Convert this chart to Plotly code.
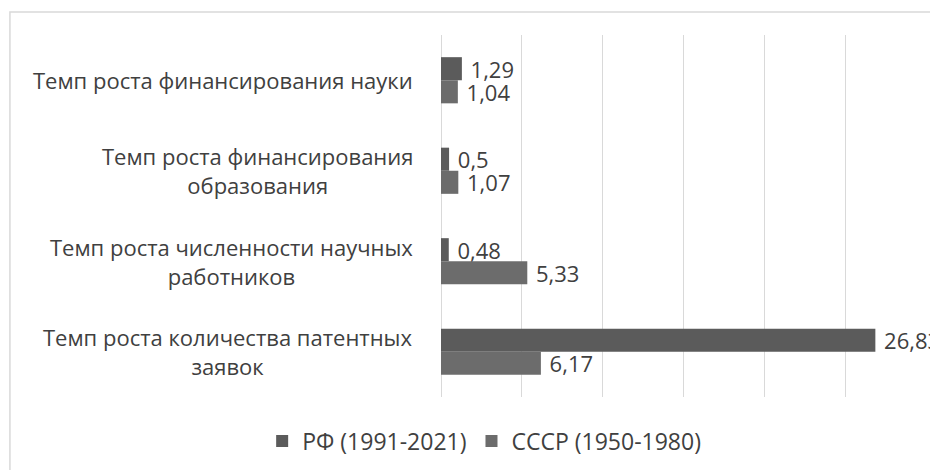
import plotly.graph_objects as go

categories = [
    "Темп роста финансирования науки",
    "Темп роста финансирования<br>образования",
    "Темп роста численности научных<br>работников",
    "Темп роста количества патентных<br>заявок",
]
cat_keys = ["nauka", "obraz", "rabot", "patent"]
rf_values = [1.29, 0.5, 0.48, 26.83]
ussr_values = [1.04, 1.07, 5.33, 6.17]
series_names = ["РФ (1991-2021)", "СССР (1950-1980)"]
x_ticks = [0, 5, 10, 15, 20, 25, 30]

FONT = "Open Sans"
TXT = "#404040"
FS = 22
NB = "\u00a0"


def fmt(v):
    return NB + f"{v:g}".replace(".", ",")


fig = go.Figure()
fig.add_trace(go.Bar(
    y=cat_keys, x=rf_values, orientation="h", name=series_names[0],
    marker=dict(color="#5b5b5b", line=dict(width=0)),
    text=[fmt(v) for v in rf_values], textposition="outside",
    constraintext="none", cliponaxis=False,
    textfont=dict(family=FONT, size=FS, color=TXT),
))
fig.add_trace(go.Bar(
    y=cat_keys, x=ussr_values, orientation="h", name=series_names[1],
    marker=dict(color="#6c6c6c", line=dict(width=0)),
    text=[fmt(v) for v in ussr_values], textposition="outside",
    constraintext="none", cliponaxis=False,
    textfont=dict(family=FONT, size=FS, color=TXT),
))

for key, label in zip(cat_keys, categories):
    fig.add_annotation(
        x=0, xref="paper", xanchor="right", xshift=-26,
        y=key, yref="y", yanchor="middle",
        text=label, showarrow=False, align="center",
        font=dict(family=FONT, size=FS, color=TXT),
    )

fig.add_shape(
    type="rect", xref="paper", yref="paper",
    x0=-0.887, x1=1.2, y0=-0.4, y1=1.0635,
    line=dict(color="#d9d9d9", width=1.5), fillcolor="rgba(0,0,0,0)",
    layer="below",
)

fig.update_layout(
    width=930, height=462,
    margin=dict(l=433, r=11, t=27, b=73, autoexpand=False),
    paper_bgcolor="white", plot_bgcolor="white",
    barmode="group", bargap=0.49, bargroupgap=0,
    font=dict(family=FONT, size=FS, color=TXT),
    showlegend=True,
    legend=dict(
        orientation="h", x=0.512, xref="container", xanchor="center",
        y=1 - 433 / 462, yref="container", yanchor="middle",
        font=dict(family=FONT, size=23, color=TXT),
        itemwidth=30, traceorder="normal",
    ),
    xaxis=dict(
        range=[0, 30.02], tickvals=x_ticks, showticklabels=False,
        showgrid=True, gridcolor="#d9d9d9", gridwidth=1,
        zeroline=True, zerolinecolor="#d9d9d9", zerolinewidth=1,
        showline=False, fixedrange=True,
    ),
    yaxis=dict(
        categoryorder="array", categoryarray=cat_keys,
        autorange="reversed", showticklabels=False,
        showgrid=False, zeroline=False, showline=False,
    ),
)

fig.write_html("out.html")
